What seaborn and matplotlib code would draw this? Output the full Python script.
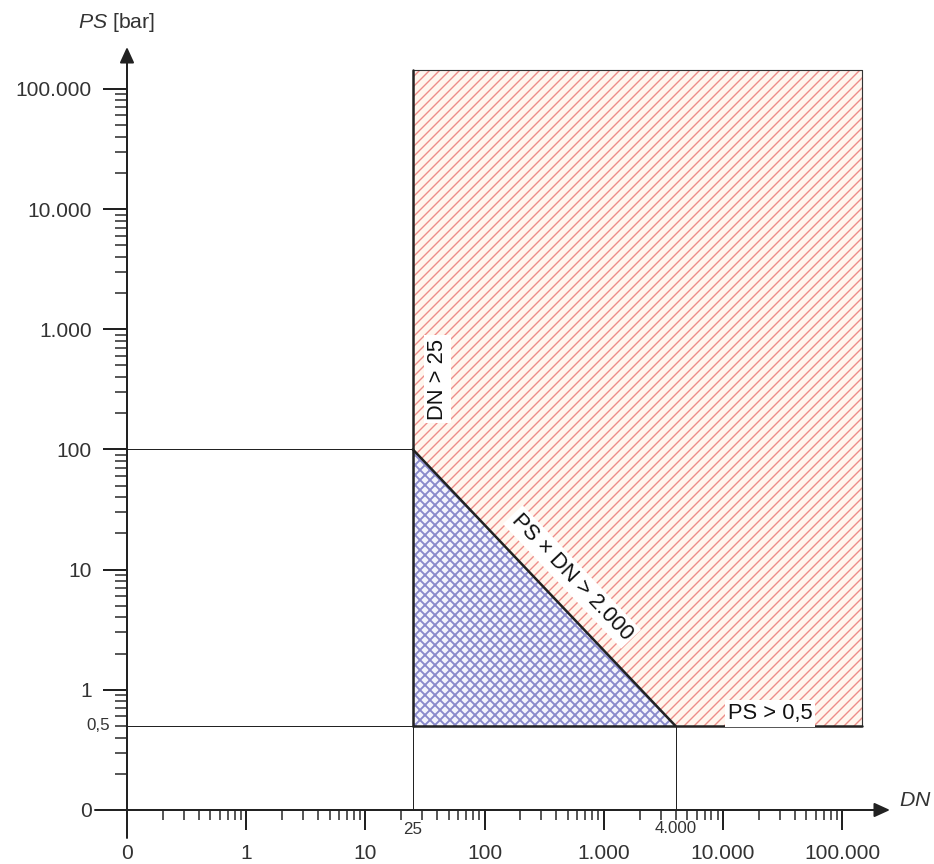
import numpy as np
import pandas as pd
import matplotlib
matplotlib.use("Agg")
import matplotlib.pyplot as plt
import seaborn as sns
from matplotlib.ticker import FixedLocator, FixedFormatter, NullFormatter

# ---------------- data ----------------
major_ticks = [0.1, 1, 10, 100, 1000, 10000, 100000]      # 0.1 is drawn as "0"
major_labels = ["0", "1", "10", "100", "1.000", "10.000", "100.000"]
minor_mult = [2, 3, 4, 5, 6, 7, 8, 9]
minor_decades = [0.1, 1, 10, 100, 1000, 10000]

# hatched areas (DN, PS)
red_dn = [25, 25, 147000, 147000, 4000]
red_ps = [100, 144000, 144000, 0.5, 0.5]
blue_dn = [25, 25, 4000]
blue_ps = [0.5, 100, 0.5]

# thin guide lines
guide_seg = [0, 0, 1, 1, 2, 2, 3, 3]
guide_dn = [0.1, 25, 0.1, 25, 25, 25, 4000, 4000]
guide_ps = [100, 100, 0.5, 0.5, 0.1, 0.5, 0.1, 0.5]

# thick boundary lines
bound_seg = [0, 0, 1, 1, 2, 2]
bound_dn = [25, 25, 25, 147000, 25, 4000]
bound_ps = [0.5, 144000, 0.5, 0.5, 100, 0.5]

# thin outline of red area (top, right)
outline_dn = [25, 147000, 147000]
outline_ps = [144000, 144000, 0.5]

# ---------------- style ----------------
sns.set_theme(style="white")
plt.rcParams["font.family"] = ["Liberation Sans", "DejaVu Sans"]
plt.rcParams["mathtext.fontset"] = "custom"
plt.rcParams["mathtext.rm"] = "Liberation Sans"
plt.rcParams["mathtext.it"] = "Liberation Sans:italic"
plt.rcParams["hatch.linewidth"] = 1.1

DPI = 90
fig = plt.figure(figsize=(934 / DPI, 864 / DPI), dpi=DPI)
ax = fig.add_axes([0, 0, 1, 1])
ax.patch.set_visible(False)
ax.set_xscale("log")
ax.set_yscale("log")
XLIM = (10 ** -2.0654, 10 ** 5.770)
YLIM = (10 ** -1.4493, 10 ** 5.7388)
ax.set_xlim(*XLIM)
ax.set_ylim(*YLIM)

INK = "#222222"
TXT = "#333333"

# hatched areas
red = ax.fill(red_dn, red_ps, facecolor="#fff6ee", edgecolor="#ee8c88",
              hatch="///", linewidth=0, zorder=1)[0]
blue = ax.fill(blue_dn, blue_ps, facecolor="#f4f4fc", edgecolor="#8a8acb",
               hatch="xxx", linewidth=0, zorder=1)[0]
try:
    blue.set_hatch_linewidth(1.5)
    red.set_hatch_linewidth(1.1)
except Exception:
    pass

# lines via seaborn
guide_df = pd.DataFrame({"DN": guide_dn, "PS": guide_ps, "seg": guide_seg})
bound_df = pd.DataFrame({"DN": bound_dn, "PS": bound_ps, "seg": bound_seg})
outline_df = pd.DataFrame({"DN": outline_dn, "PS": outline_ps, "seg": [0, 0, 0]})
sns.lineplot(data=guide_df, x="DN", y="PS", units="seg", estimator=None, sort=False,
             color=INK, linewidth=0.8, ax=ax, zorder=2)
sns.lineplot(data=outline_df, x="DN", y="PS", units="seg", estimator=None, sort=False,
             color="#333333", linewidth=0.9, ax=ax, zorder=2)
sns.lineplot(data=bound_df, x="DN", y="PS", units="seg", estimator=None, sort=False,
             color=INK, linewidth=2.0, ax=ax, zorder=3)
ax.set_xlabel("")
ax.set_ylabel("")
ax.set_xlim(*XLIM)
ax.set_ylim(*YLIM)

# axes / ticks
for s in ["top", "right"]:
    ax.spines[s].set_visible(False)
ax.spines["left"].set_position(("data", 0.1))
ax.spines["bottom"].set_position(("data", 0.1))
ax.spines["left"].set_visible(False)
ax.spines["bottom"].set_visible(False)

minor_ticks = [m * d for d in minor_decades for m in minor_mult]
for axis in (ax.xaxis, ax.yaxis):
    axis.set_major_locator(FixedLocator(major_ticks))
    axis.set_major_formatter(FixedFormatter(major_labels))
    axis.set_minor_locator(FixedLocator(minor_ticks))
    axis.set_minor_formatter(NullFormatter())

ax.tick_params(axis="x", which="major", bottom=True, top=False, direction="out",
               length=16, width=1.6, pad=11, labelsize=16.8, color=INK, labelcolor=TXT)
ax.tick_params(axis="x", which="minor", bottom=True, top=False, direction="out",
               length=8, width=1.2, color=INK)
ax.tick_params(axis="y", which="major", left=True, right=False, direction="out",
               length=19, width=1.6, pad=9, labelsize=16.8, color=INK, labelcolor=TXT)
ax.tick_params(axis="y", which="minor", left=True, right=False, direction="out",
               length=9.6, width=1.2, color=INK)

arrow = dict(arrowstyle="-|>,head_length=1.05,head_width=0.48", mutation_scale=10,
             lw=1.6, color=INK, shrinkA=0, shrinkB=0)
ax.annotate("", xy=(0.1, 1 - 47 / 864), xytext=(0.1, 1 - 838 / 864),
            xycoords=("data", "axes fraction"), textcoords=("data", "axes fraction"),
            arrowprops=arrow, zorder=6)
ax.annotate("", xy=(890 / 934, 0.1), xytext=(95 / 934, 0.1),
            xycoords=("axes fraction", "data"), textcoords=("axes fraction", "data"),
            arrowprops=arrow, zorder=6)

# axis titles
ax.text(117 / 934, 1 - 23 / 864, r"$PS$ [bar]", transform=ax.transAxes,
        ha="center", va="center", fontsize=17, color=TXT)
ax.text(915 / 934, 1 - 800 / 864, r"$DN$", transform=ax.transAxes,
        ha="center", va="center", fontsize=17, color=TXT)

# extra small tick labels
small = dict(textcoords="offset pixels", ha="center", va="center", fontsize=13.5, color=TXT)
ax.annotate("25", xy=(25, 0.1), xytext=(0, -20), **small)
ax.annotate("4.000", xy=(4000, 0.1), xytext=(0, -19), **small)
ax.annotate("0,5", xy=(0.1, 0.5), xytext=(-29, 0), **small)

# region labels
box = dict(facecolor="white", edgecolor="none", pad=2.5)
ax.text(40, 385, "DN > 25", rotation=90, ha="center", va="center",
        fontsize=17.5, color="#111111", bbox=box, zorder=5, rotation_mode="anchor")
p1 = ax.transData.transform((25, 100))
p2 = ax.transData.transform((4000, 0.5))
ang = np.degrees(np.arctan2(p2[1] - p1[1], p2[0] - p1[0]))
ax.text(540, 8.7, "PS × DN > 2.000", rotation=ang, ha="center", va="center",
        fontsize=17.5, color="#111111", bbox=box, zorder=5, rotation_mode="anchor")
ax.text(24800, 0.64, "PS > 0,5", ha="center", va="center",
        fontsize=17.5, color="#111111", bbox=box, zorder=5)

fig.savefig("out.png", dpi=DPI)
